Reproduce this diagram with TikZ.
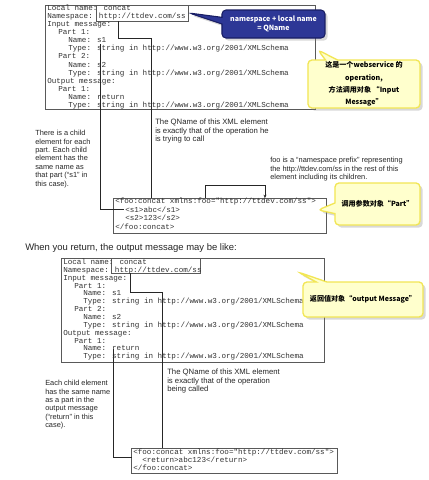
\documentclass[tikz,border=0pt]{standalone}
\usepackage{fontspec}
\setmainfont{Liberation Sans}
\newfontfamily\mono{Liberation Mono}
\newfontfamily\cjk{Noto Sans CJK SC}
\usetikzlibrary{shapes.callouts,shadows,fit,arrows.meta}
\definecolor{ybord}{RGB}{242,230,85}
\definecolor{yfill}{RGB}{255,255,205}
\definecolor{bfill}{RGB}{45,55,150}
\definecolor{bbord}{RGB}{25,30,100}
\begin{document}
\begin{tikzpicture}[x=0.75pt,y=-0.75pt,
  code/.style={anchor=base west,inner sep=0,font=\mono\fontsize{5.7}{6}\selectfont,text=black!80},
  frame/.style={draw=black!65,line width=0.75pt,inner sep=0},
  conn/.style={draw=black!85,line width=0.6pt},
  note/.style={anchor=north west,inner sep=0,align=left,text=black!85,font=\fontsize{5.8}{6.2}\selectfont},
  smallnote/.style={note,font=\fontsize{5.55}{6.3}\selectfont},
  ycall/.style={rectangle callout,rounded corners=3pt,draw=ybord,line width=1pt,fill=yfill,
    drop shadow={shadow xshift=2pt,shadow yshift=-2pt,opacity=0.3},
    font=\cjk\bfseries\fontsize{5.3}{9.2}\selectfont,align=center,inner sep=0},
  bcall/.style={rectangle callout,rounded corners=3pt,draw=bbord,line width=0.8pt,fill=bfill,
    drop shadow={shadow xshift=2pt,shadow yshift=-2pt,opacity=0.3},text=white,
    font=\cjk\bfseries\fontsize{5.3}{7}\selectfont,align=center,inner sep=0}]
\useasboundingbox (0,0) rectangle (429,480);
\fill[white] (0,0) rectangle (429,480);

% ---------- block 1 ----------
\node[frame,fit={(46,5) (316,109)}] (box1) {};
\node[frame,fit={(97,5) (189,21)}] (hl1) {};
\node[code] (a1) at (47,10) {Local name: concat};
\node[code] (a2) at (47,18.15) {Namespace: http://ttdev.com/ss};
\node[code] (a3) at (47,26.3) {Input message:};
\node[code] (a4) at (58,34.45) {Part 1:};
\node[code] (a5) at (68,42.6) {Name: s1};
\node[code] (a6) at (68,50.75) {Type: string in http://www.w3.org/2001/XMLSchema};
\node[code] (a7) at (58,58.9) {Part 2:};
\node[code] (a8) at (68,67.05) {Name: s2};
\node[code] (a9) at (68,75.2) {Type: string in http://www.w3.org/2001/XMLSchema};
\node[code] (a10) at (47,83.35) {Output message:};
\node[code] (a11) at (58,91.5) {Part 1:};
\node[code] (a12) at (68,99.65) {Name: return};
\node[code] (a13) at (68,107.8) {Type: string in http://www.w3.org/2001/XMLSchema};

\node[bcall,minimum width=77.25pt,minimum height=21pt,callout pointer width=5pt,
  callout absolute pointer={(189,13)}] (qn) at (273.5,24) {namespace + local name\\= QName};
\node[ycall,minimum width=84pt,minimum height=36pt,callout pointer width=9pt,
  callout absolute pointer={(318,50)}] (op) at (364,84)
  {这是一个webservice 的\\operation,\\方法调用对象 “Input\\Message”};

\node[note] (t1) at (155,119) {The QName of this XML element\\is exactly that of the operation he\\is trying to call};
\node[smallnote] (t2) at (35,130) {There is a child\\element for each\\part. Each child\\element has the\\same name as\\that part (“s1” in\\this case).};
\node[smallnote] (t3) at (270,157) {foo is a “namespace prefix” representing\\the http://ttdev.com/ss in the rest of this\\element including its children.};

\node[frame,fit={(114,198) (327,233)}] (xml1) {};
\node[code] (x1) at (115,203.5) {<foo:concat xmlns:foo="http://ttdev.com/ss">};
\node[code] (x2) at (125,212) {<s1>abc</s1>};
\node[code] (x3) at (125,220.5) {<s2>123</s2>};
\node[code] (x4) at (115,229) {</foo:concat>};

\node[ycall,minimum width=63.75pt,minimum height=31.5pt,callout pointer width=8pt,
  callout absolute pointer={(318,210)}] (pt) at (377.5,204) {调用参数对象“Part”};

\coordinate (p1) at (118,21);
\coordinate (q1) at (151,198);
\draw[conn] (p1) -- (118,38) -- (151,38) -- (q1);
\coordinate (p2) at (100,44);
\coordinate (q2) at (124.5,209.5);
\draw[conn] (p2) -- (100,209.5) -- (q2);
\coordinate (p3) at (205,198);
\coordinate (q3) at (265,198);
\draw[conn,-{Stealth[length=2.5pt,width=2.2pt]}] (p3) -- (205,185) -- (265,185) -- (q3);

% ---------- middle sentence ----------
\node[anchor=base west,inner sep=0,text=black!85,font=\fontsize{7.1}{8}\selectfont] (mid) at (25,250)
  {When you return, the output message may be like:};

% ---------- block 2 ----------
\node[frame,fit={(62,258) (325,362)}] (box2) {};
\node[frame,fit={(112,258) (201,273)}] (hl2) {};
\node[code] (b1) at (63,264.5) {Local name: concat};
\node[code] (b2) at (63,272.35) {Namespace: http://ttdev.com/ss};
\node[code] (b3) at (63,280.2) {Input message:};
\node[code] (b4) at (74,288.05) {Part 1:};
\node[code] (b5) at (83,295.9) {Name: s1};
\node[code] (b6) at (83,303.75) {Type: string in http://www.w3.org/2001/XMLSchema};
\node[code] (b7) at (74,311.6) {Part 2:};
\node[code] (b8) at (83,319.45) {Name: s2};
\node[code] (b9) at (83,327.3) {Type: string in http://www.w3.org/2001/XMLSchema};
\node[code] (b10) at (63,335.15) {Output message:};
\node[code] (b11) at (74,343) {Part 1:};
\node[code] (b12) at (83,350.85) {Name: return};
\node[code] (b13) at (83,358.7) {Type: string in http://www.w3.org/2001/XMLSchema};

\node[ycall,minimum width=90pt,minimum height=26.25pt,callout pointer width=8pt,
  callout absolute pointer={(298,272)}] (om) at (363,299.5) {返回值对象“output Message”};

\node[note] (t4) at (167,369) {The QName of this XML element\\is exactly that of the operation\\being called};
\node[smallnote] (t5) at (45,380) {Each child element\\has the same name\\as a part in the\\output message\\(“return” in this\\case).};

\node[frame,fit={(132,448) (338,473)}] (xml2) {};
\node[code] (y1) at (133,454) {<foo:concat xmlns:foo="http://ttdev.com/ss">};
\node[code] (y2) at (142,462) {<return>abc123</return>};
\node[code] (y3) at (133,470) {</foo:concat>};

\coordinate (p4) at (130,273);
\coordinate (q4) at (162,448);
\draw[conn] (p4) -- (130,292) -- (162,292) -- (q4);
\coordinate (p5) at (113,349);
\coordinate (q5) at (132,457);
\draw[conn] (p5) -- (113,457) -- (q5);
\end{tikzpicture}
\end{document}
